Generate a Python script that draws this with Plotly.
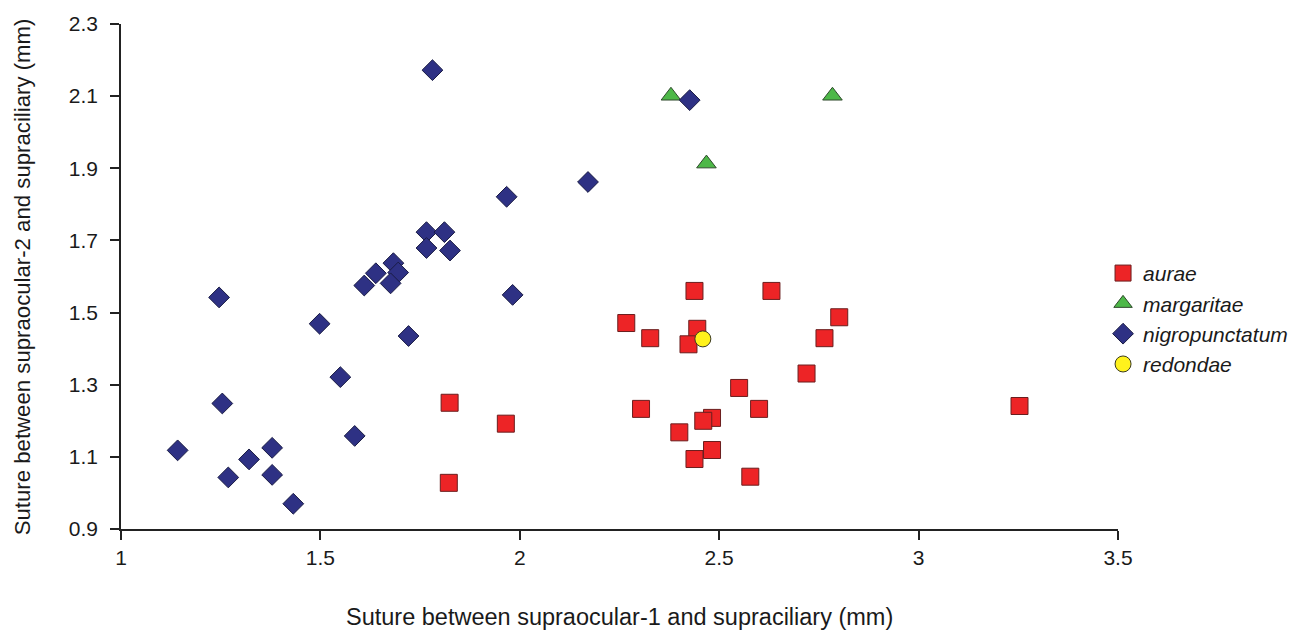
import plotly.graph_objects as go

# aurae (red squares)
aurae_x = [1.824, 1.822, 1.965, 2.438, 2.631, 2.267, 2.327, 2.445, 2.423, 2.801, 2.764,
           2.719, 2.550, 2.304, 2.600, 2.482, 2.460, 2.400, 2.482, 2.438, 2.578, 3.253]
aurae_y = [1.250, 1.028, 1.192, 1.560, 1.560, 1.471, 1.429, 1.455, 1.412, 1.487, 1.429,
           1.331, 1.291, 1.233, 1.233, 1.208, 1.200, 1.168, 1.119, 1.094, 1.045, 1.241]

# margaritae (green triangles)
marg_x = [2.379, 2.784, 2.468]
marg_y = [2.101, 2.101, 1.913]

# nigropunctatum (navy diamonds)
nigro_x = [1.781, 2.426, 2.171, 1.967, 1.766, 1.811, 1.766, 1.825, 1.683, 1.695, 1.639,
           1.676, 1.610, 1.246, 1.982, 1.498, 1.721, 1.550, 1.254, 1.586, 1.142, 1.379,
           1.321, 1.269, 1.379, 1.432]
nigro_y = [2.172, 2.089, 1.862, 1.821, 1.723, 1.723, 1.679, 1.672, 1.637, 1.611, 1.609,
           1.581, 1.575, 1.542, 1.549, 1.469, 1.435, 1.321, 1.248, 1.158, 1.118, 1.125,
           1.093, 1.043, 1.050, 0.970]

# redondae (yellow circle)
red_x = [2.459]
red_y = [1.427]

x_ticks = [1, 1.5, 2, 2.5, 3, 3.5]
y_ticks = [0.9, 1.1, 1.3, 1.5, 1.7, 1.9, 2.1, 2.3]

x_title = "Suture between supraocular-1 and supraciliary (mm)"
y_title = "Suture between supraocular-2 and supraciliary (mm)"

FONT = "Liberation Sans, Arial, sans-serif"
TXT = "#1a1a1a"

fig = go.Figure()
fig.add_trace(go.Scatter(x=aurae_x, y=aurae_y, mode="markers", name="aurae",
                         marker=dict(symbol="square", size=17, color="#ED2426",
                                     line=dict(color="#6A1E1E", width=1))))
fig.add_trace(go.Scatter(x=marg_x, y=marg_y, mode="markers", name="margaritae",
                         marker=dict(symbol="triangle-up", size=17, color="#4DB848",
                                     line=dict(color="#2F4A2C", width=1))))
fig.add_trace(go.Scatter(x=nigro_x, y=nigro_y, mode="markers", name="nigropunctatum",
                         marker=dict(symbol="diamond", size=16, color="#2E3184",
                                     line=dict(color="#1A1C44", width=1))))
fig.add_trace(go.Scatter(x=red_x, y=red_y, mode="markers", name="redondae",
                         marker=dict(symbol="circle", size=16, color="#FFF21C",
                                     line=dict(color="#3A3A20", width=1))))

# the page body has an 8px default margin, so the figure is sized to fit the window
fig.update_layout(
    width=1297, height=623,
    margin=dict(l=113, r=187, t=16, b=102, autoexpand=False),
    paper_bgcolor="white", plot_bgcolor="white",
    font=dict(family=FONT, size=21, color=TXT),
    showlegend=True,
    legend=dict(x=0.985, xanchor="left", y=0.416, yanchor="middle",
                font=dict(family=FONT, size=21, style="italic", color=TXT),
                bgcolor="rgba(0,0,0,0)", itemsizing="trace"),
    annotations=[
        dict(text=x_title, xref="paper", yref="paper", x=0.5, y=-0.174,
             xanchor="center", yanchor="middle", showarrow=False,
             font=dict(family=FONT, size=23.5, color=TXT)),
        dict(text=y_title, xref="paper", yref="paper", x=-0.0985, y=0.50,
             xanchor="center", yanchor="middle", showarrow=False, textangle=-90,
             font=dict(family=FONT, size=22.2, color=TXT)),
    ],
)
fig.update_xaxes(range=[1, 3.5], tickvals=x_ticks, ticktext=[str(v) for v in x_ticks],
                 automargin=False,
                 showgrid=False, zeroline=False, showline=True, linecolor="#222",
                 linewidth=1.5, ticks="outside", ticklen=9, tickwidth=1.5, tickcolor="#222",
                 tickfont=dict(size=21, color=TXT))
fig.update_yaxes(range=[0.9, 2.3], tickvals=y_ticks, ticktext=[f"{v:.1f}" for v in y_ticks],
                 automargin=False, ticklabelstandoff=8,
                 showgrid=False, zeroline=False, showline=True, linecolor="#222",
                 linewidth=1.5, ticks="outside", ticklen=9, tickwidth=1.5, tickcolor="#222",
                 tickfont=dict(size=21, color=TXT))

fig.write_html("out.html")
